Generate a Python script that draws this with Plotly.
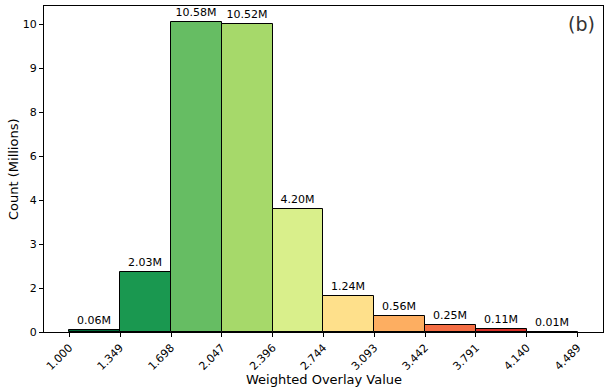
import plotly.graph_objects as go

# histogram of weighted overlay values (counts in millions)
bin_edges = [1.000, 1.349, 1.698, 2.047, 2.396, 2.744, 3.093, 3.442, 3.791, 4.140, 4.489]
counts_m = [0.06, 2.03, 10.58, 10.52, 4.20, 1.24, 0.56, 0.25, 0.11, 0.01]
bar_labels = ["0.06M", "2.03M", "10.58M", "10.52M", "4.20M",
              "1.24M", "0.56M", "0.25M", "0.11M", "0.01M"]
bar_colors = ["#006837", "#1a9850", "#66bd63", "#a6d96a", "#d9ef8b",
              "#fee08b", "#fdae61", "#f46d43", "#d73027", "#a50026"]
ytick_vals = [0, 1.5, 3, 4.5, 6, 7.5, 9, 10.5]
ytick_text = ["0", "2", "3", "4", "6", "8", "9", "10"]

centers = [(a + b) / 2 for a, b in zip(bin_edges[:-1], bin_edges[1:])]
widths = [b - a for a, b in zip(bin_edges[:-1], bin_edges[1:])]

fig = go.Figure()
fig.add_trace(go.Bar(x=centers, y=counts_m, width=widths,
                     marker=dict(color=bar_colors, line=dict(color="black", width=1)),
                     text=bar_labels, textposition="outside",
                     textfont=dict(size=11, color="black"),
                     cliponaxis=False, showlegend=False))

fig.add_annotation(x=0.99, y=0.985, xref="paper", yref="paper", text="(b)",
                   showarrow=False, xanchor="right", yanchor="top",
                   font=dict(size=19, color="#333333"))
# axis titles as annotations so they sit where the reference has them
fig.add_annotation(x=0.5, y=0, xref="paper", yref="paper",
                   text="Weighted Overlay Value", showarrow=False,
                   xanchor="center", yanchor="top", yshift=-38,
                   font=dict(size=13, color="black"))
fig.add_annotation(x=0, y=0.5, xref="paper", yref="paper",
                   text="Count (Millions)", showarrow=False, textangle=-90,
                   xanchor="center", yanchor="middle", xshift=-31,
                   font=dict(size=13, color="black"))

axis_common = dict(showline=True, linecolor="black", linewidth=1, mirror=True,
                   ticks="outside", ticklen=4, tickcolor="black",
                   showgrid=False, zeroline=False, automargin=False,
                   tickfont=dict(size=11, color="black"))
fig.update_xaxes(range=[0.826, 4.663], tickvals=bin_edges,
                 ticktext=["%.3f" % v for v in bin_edges], tickangle=-45,
                 **axis_common)
fig.update_yaxes(range=[0, 11.12], tickvals=ytick_vals, ticktext=ytick_text,
                 **axis_common)
fig.update_layout(width=609, height=391, bargap=0,
                  margin=dict(l=44, r=6, t=6, b=59, autoexpand=False),
                  paper_bgcolor="white", plot_bgcolor="white",
                  font=dict(family="DejaVu Sans", color="black"))

# drop the browser's default body margin so the figure sits at the page corner
fig.write_html("out.html", config={"displayModeBar": False},
               post_script="document.body.style.margin='0px';")
